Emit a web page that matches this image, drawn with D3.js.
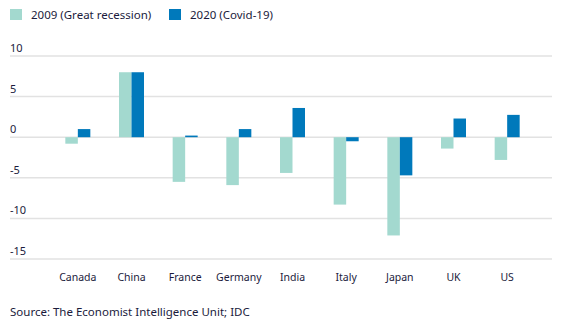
<!DOCTYPE html>
<html>
<head>
<meta charset="utf-8">
<script src="https://cdn.jsdelivr.net/npm/d3@7"></script>
<style>
  body { margin: 0; background: #fff; }
  svg text { font-family: "Noto Sans", sans-serif; fill: #1b1b3c; }
</style>
</head>
<body>
<svg id="chart" width="571" height="327"></svg>
<script>
// GDP growth by country, two recessions
let countries = ["Canada", "China", "France", "Germany", "India", "Italy", "Japan", "UK", "US"];
let gdp2009 = [-0.8, 8.0, -5.5, -5.9, -4.4, -8.3, -12.1, -1.4, -2.8];
let gdp2020 = [1.0, 8.0, 0.2, 1.0, 3.6, -0.5, -4.7, 2.3, 2.75];
let seriesNames = ["2009 (Great recession)", "2020 (Covid-19)"];
let yTicks = [10, 5, 0, -5, -10, -15];

let colors = ["#a3d9cf", "#0079bb"];

let svg = d3.select("#chart");

// scales
let x = d3.scaleBand()
  .domain(countries)
  .range([51, 534])
  .paddingInner(0)
  .paddingOuter(0);

let y = d3.scaleLinear()
  .domain([-15, 10])
  .range([259, 56]);

let barW = 12.5;

// gridlines + tick labels
let grid = svg.append("g");
grid.selectAll("line")
  .data(yTicks)
  .join("line")
    .attr("x1", 10)
    .attr("x2", 552)
    .attr("y1", d => y(d))
    .attr("y2", d => y(d))
    .attr("stroke", "#e2e2e2")
    .attr("stroke-width", 1.5);

grid.selectAll("text")
  .data(yTicks)
  .join("text")
    .attr("x", 10)
    .attr("y", d => y(d) - 4)
    .attr("font-size", 11)
    .text(d => d);

// bars
let rows = countries.map((c, i) => ({country: c, vals: [gdp2009[i], gdp2020[i]]}));

let groups = svg.append("g").selectAll("g")
  .data(rows)
  .join("g")
    .attr("transform", d => "translate(" + (x(d.country) + x.bandwidth() / 2) + ",0)");

groups.selectAll("rect")
  .data(d => d.vals)
  .join("rect")
    .attr("x", (d, i) => i === 0 ? -barW : 0)
    .attr("width", barW)
    .attr("y", d => y(Math.max(0, d)))
    .attr("height", d => Math.abs(y(d) - y(0)))
    .attr("fill", (d, i) => colors[i]);

// x labels
svg.append("g").selectAll("text")
  .data(countries)
  .join("text")
    .attr("x", d => x(d) + x.bandwidth() / 2)
    .attr("y", 281)
    .attr("text-anchor", "middle")
    .attr("font-size", 10.5)
    .text(d => d);

// legend
let legendX = [10, 169];
let legend = svg.append("g").selectAll("g")
  .data(seriesNames)
  .join("g")
    .attr("transform", (d, i) => "translate(" + legendX[i] + ",9)");

legend.append("rect")
  .attr("width", 12)
  .attr("height", 11)
  .attr("fill", (d, i) => colors[i]);

legend.append("text")
  .attr("x", (d, i) => i === 0 ? 21 : 21)
  .attr("y", 9.5)
  .attr("font-size", 11.5)
  .text(d => d);

// source
svg.append("text")
  .attr("x", 10)
  .attr("y", 316)
  .attr("font-size", 11.5)
  .text("Source: The Economist Intelligence Unit; IDC");
</script>
</body>
</html>
